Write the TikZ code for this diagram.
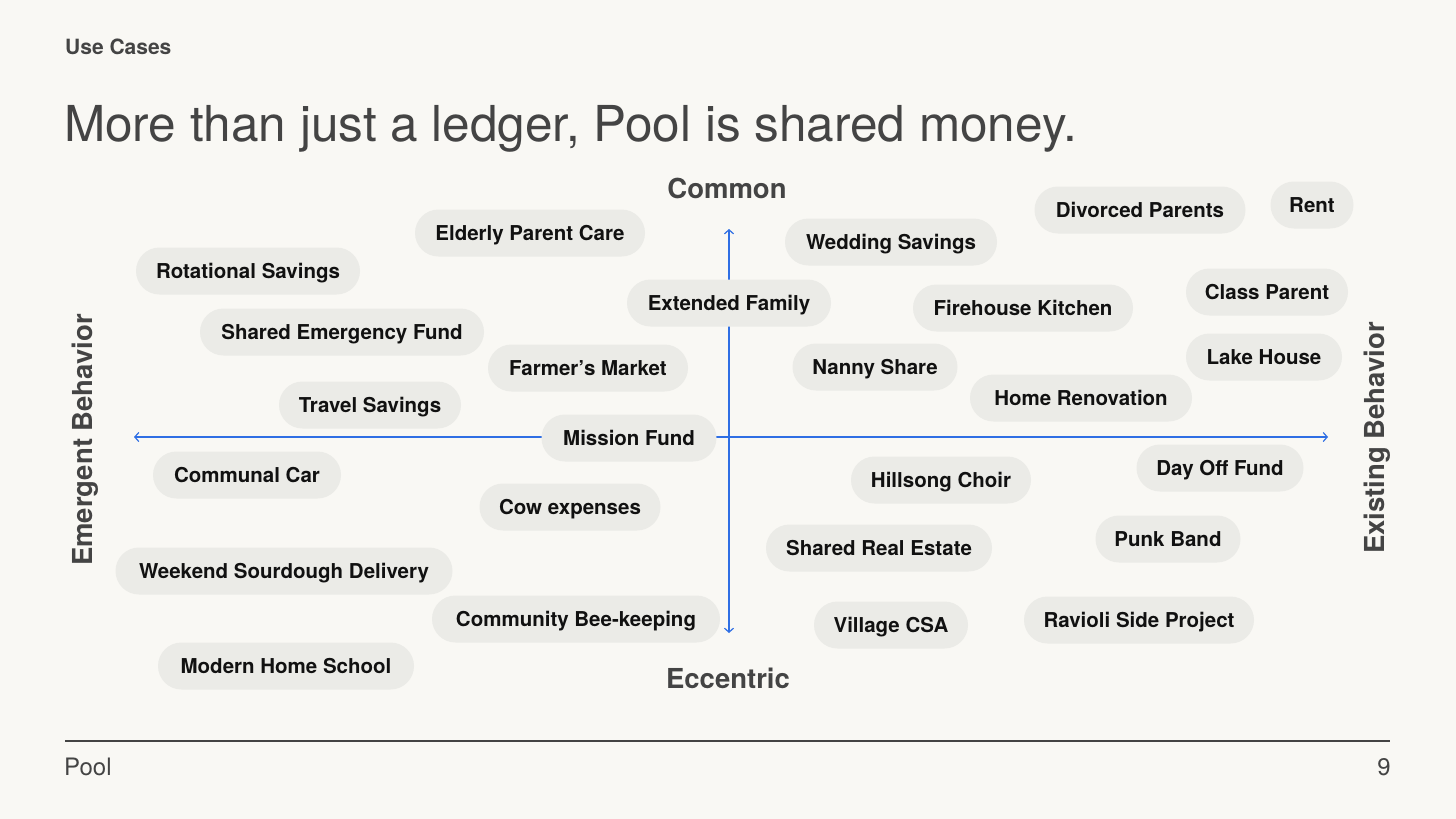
\documentclass[tikz,border=0pt]{standalone}
\usepackage{fontspec}
\setmainfont{TeX Gyre Heros}
\usetikzlibrary{arrows.meta}
\definecolor{bg}{HTML}{F9F8F4}
\definecolor{pillfill}{HTML}{EBEBE7}
\definecolor{axisblue}{HTML}{2F6FE4}
\definecolor{darktext}{HTML}{444444}
\definecolor{pilltext}{HTML}{111111}
\tikzset{
  pill/.style={fill=pillfill, rounded corners=23.5pt, minimum height=47pt, inner sep=0pt,
    text height=14pt, text depth=0pt,
    text=pilltext, font=\fontsize{20.5}{24}\selectfont\bfseries},
  axislabel/.style={text=darktext, font=\fontsize{27.5}{32}\selectfont\bfseries, inner sep=0pt},
  axisline/.style={draw=axisblue, line width=1.2pt, {Straight Barb[length=4pt,width=9pt]}-{Straight Barb[length=4pt,width=9pt]}}
}
\begin{document}
\begin{tikzpicture}[x=1pt,y=-1pt]
\useasboundingbox (0,0) rectangle (1456,819);
\fill[bg] (0,0) rectangle (1456,819);

% header
\node[anchor=base west, inner sep=0pt, text=darktext, font=\fontsize{21}{25}\selectfont\bfseries] (usecases) at (65,54) {Use Cases};
\node[anchor=base west, inner sep=0pt, text=darktext, font=\fontsize{49.5}{58}\selectfont] (title) at (64,141) {More than just a ledger, Pool is shared money.};

% axes endpoints
\coordinate (top) at (729,229);
\coordinate (bottom) at (729,633);
\coordinate (left) at (134,437);
\coordinate (right) at (1328,437);
\draw[axisline] (bottom) -- (top);
\draw[axisline] (left) -- (right);

% axis labels
\node[axislabel] (common) at (727,188) {Common};
\node[axislabel] (eccentric) at (728,678) {Eccentric};
\node[axislabel, rotate=90] (emergent) at (85,440) {Emergent Behavior};
\node[axislabel, rotate=90] (existing) at (1377,438) {Existing Behavior};

% pills (left half)
\node[pill, minimum width=230pt] (p1) at (530,233) {Elderly Parent Care};
\node[pill, minimum width=224pt] (p2) at (248,271) {Rotational Savings};
\node[pill, minimum width=284pt] (p3) at (342,332) {Shared Emergency Fund};
\node[pill, minimum width=200pt] (p4) at (588,368) {Farmer’s Market};
\node[pill, minimum width=182pt] (p5) at (370,405) {Travel Savings};
\node[pill, minimum width=175pt] (p6) at (629,438) {Mission Fund};
\node[pill, minimum width=188pt] (p7) at (247,475) {Communal Car};
\node[pill, minimum width=181pt] (p8) at (570,507) {Cow expenses};
\node[pill, minimum width=337pt] (p9) at (284,571) {Weekend Sourdough Delivery};
\node[pill, minimum width=288pt] (p10) at (576,619) {Community Bee-keeping};
\node[pill, minimum width=256pt] (p11) at (286,666) {Modern Home School};

% pills (right half)
\node[pill, minimum width=204pt] (p12) at (729,303) {Extended Family};
\node[pill, minimum width=212pt] (p13) at (891,242) {Wedding Savings};
\node[pill, minimum width=211pt] (p14) at (1140,210) {Divorced Parents};
\node[pill, minimum width=83pt] (p15) at (1312,205) {Rent};
\node[pill, minimum width=220pt] (p16) at (1023,308) {Firehouse Kitchen};
\node[pill, minimum width=162pt] (p17) at (1267,292) {Class Parent};
\node[pill, minimum width=165pt] (p18) at (875,367) {Nanny Share};
\node[pill, minimum width=156pt] (p19) at (1264,357) {Lake House};
\node[pill, minimum width=222pt] (p20) at (1081,398) {Home Renovation};
\node[pill, minimum width=167pt] (p21) at (1220,468) {Day Off Fund};
\node[pill, minimum width=180pt] (p22) at (941,480) {Hillsong Choir};
\node[pill, minimum width=226pt] (p23) at (879,548) {Shared Real Estate};
\node[pill, minimum width=145pt] (p24) at (1168,539) {Punk Band};
\node[pill, minimum width=154pt] (p25) at (891,625) {Village CSA};
\node[pill, minimum width=230pt] (p26) at (1139,620) {Ravioli Side Project};

% footer
\coordinate (fl) at (65,741);
\coordinate (fr) at (1390,741);
\draw[draw=darktext, line width=1.3pt] (fl) -- (fr);
\node[anchor=base west, inner sep=0pt, text=darktext, font=\fontsize{24}{28}\selectfont] (pool) at (64,775) {Pool};
\node[anchor=base east, inner sep=0pt, text=darktext, font=\fontsize{24}{28}\selectfont] (pagenum) at (1391,775) {9};
\end{tikzpicture}
\end{document}
